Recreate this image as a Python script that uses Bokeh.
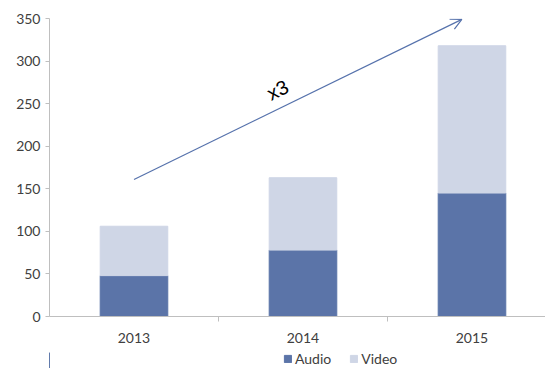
from bokeh.plotting import figure
from bokeh.layouts import column
from bokeh.models import (Range1d, FixedTicker, ColumnDataSource, Arrow, OpenHead,
                          Legend, LegendItem)
from bokeh.core.properties import value
from bokeh.embed import file_html
from bokeh.resources import INLINE
import math

years = ["2013", "2014", "2015"]
audio = [48, 78, 145]
video = [58, 85, 173]
y_ticks = [0, 50, 100, 150, 200, 250, 300, 350]

arrow_start = (0.5, 161)
arrow_end = (2.44, 349)
label_text = "x3"
label_pos = (1.35, 266)

FONT = "Lato"
AUDIO_C = "#5b74a8"
VIDEO_C = "#cfd6e6"
AXIS_C = "#bfbfbf"
TEXT_C = "#404040"

xs = [i + 0.5 for i in range(len(years))]
tops_total = [a + v for a, v in zip(audio, video)]
src = ColumnDataSource(dict(x=xs, audio=audio, total=tops_total))

p = figure(width=545, height=352, output_backend="svg", toolbar_location=None,
           x_range=Range1d(0, 2.935), y_range=Range1d(0, 350),
           min_border_left=49, min_border_top=18, min_border_right=0,
           min_border_bottom=36)
p.outline_line_color = None
p.xgrid.grid_line_color = None
p.ygrid.grid_line_color = None

p.vbar(x="x", bottom=0, top="audio", width=0.4, color=AUDIO_C, source=src)
p.vbar(x="x", bottom="audio", top="total", width=0.4, color=VIDEO_C, source=src)

# x axis: labels at category centres, ticks at category boundaries
p.xaxis.ticker = FixedTicker(ticks=xs, minor_ticks=list(range(1, len(years))))
p.xaxis.major_label_overrides = {x: y for x, y in zip(xs, years)}
p.xaxis.major_tick_line_color = None
p.xaxis.major_tick_out = 0
p.xaxis.minor_tick_out = 5
p.xaxis.minor_tick_in = 0
p.xaxis.minor_tick_line_color = AXIS_C
p.xaxis.axis_line_color = AXIS_C
p.xaxis.major_label_standoff = 11

p.yaxis.ticker = FixedTicker(ticks=y_ticks)
p.yaxis.minor_tick_line_color = None
p.yaxis.major_tick_in = 0
p.yaxis.major_tick_out = 4
p.yaxis.major_tick_line_color = AXIS_C
p.yaxis.axis_line_color = AXIS_C
p.yaxis.major_label_standoff = 5

for ax in (p.xaxis, p.yaxis):
    ax.major_label_text_font = FONT
    ax.major_label_text_font_size = "14px"
    ax.major_label_text_color = TEXT_C

p.add_layout(Arrow(end=OpenHead(size=11, line_color="#5672ac", line_width=1.2),
                   x_start=arrow_start[0], y_start=arrow_start[1],
                   x_end=arrow_end[0], y_end=arrow_end[1],
                   line_color="#5672ac", line_width=1.2))

ang = math.atan2(160, 328)
p.text(x=[label_pos[0]], y=[label_pos[1]], text=[label_text], angle=ang,
       text_font=value("Liberation Sans"), text_font_size="20px",
       text_color="#000000", text_align="center", text_baseline="middle")

# legend strip below the chart (its own small figure, renderers out of view)
lg = figure(width=545, height=16, output_backend="svg", toolbar_location=None,
            x_range=Range1d(10, 11), y_range=Range1d(0, 1), min_border=0)
lg.axis.visible = False
lg.grid.visible = False
lg.outline_line_color = None
la = lg.vbar(x="x", bottom=0, top="audio", width=0.4, color=AUDIO_C, source=src)
lv = lg.vbar(x="x", bottom="audio", top="total", width=0.4, color=VIDEO_C, source=src)

legend = Legend(items=[LegendItem(label="Audio", renderers=[la]),
                       LegendItem(label="Video", renderers=[lv])],
                orientation="horizontal", location=(234, 1),
                label_text_font=FONT, label_text_font_size="14px",
                label_text_color=TEXT_C, glyph_width=9, glyph_height=9,
                label_standoff=3, spacing=18, padding=0, margin=0,
                label_height=14, border_line_color=None, background_fill_alpha=0)
lg.add_layout(legend, "center")

layout = column(p, lg, spacing=0)
open("out.html", "w").write(file_html(layout, INLINE))
